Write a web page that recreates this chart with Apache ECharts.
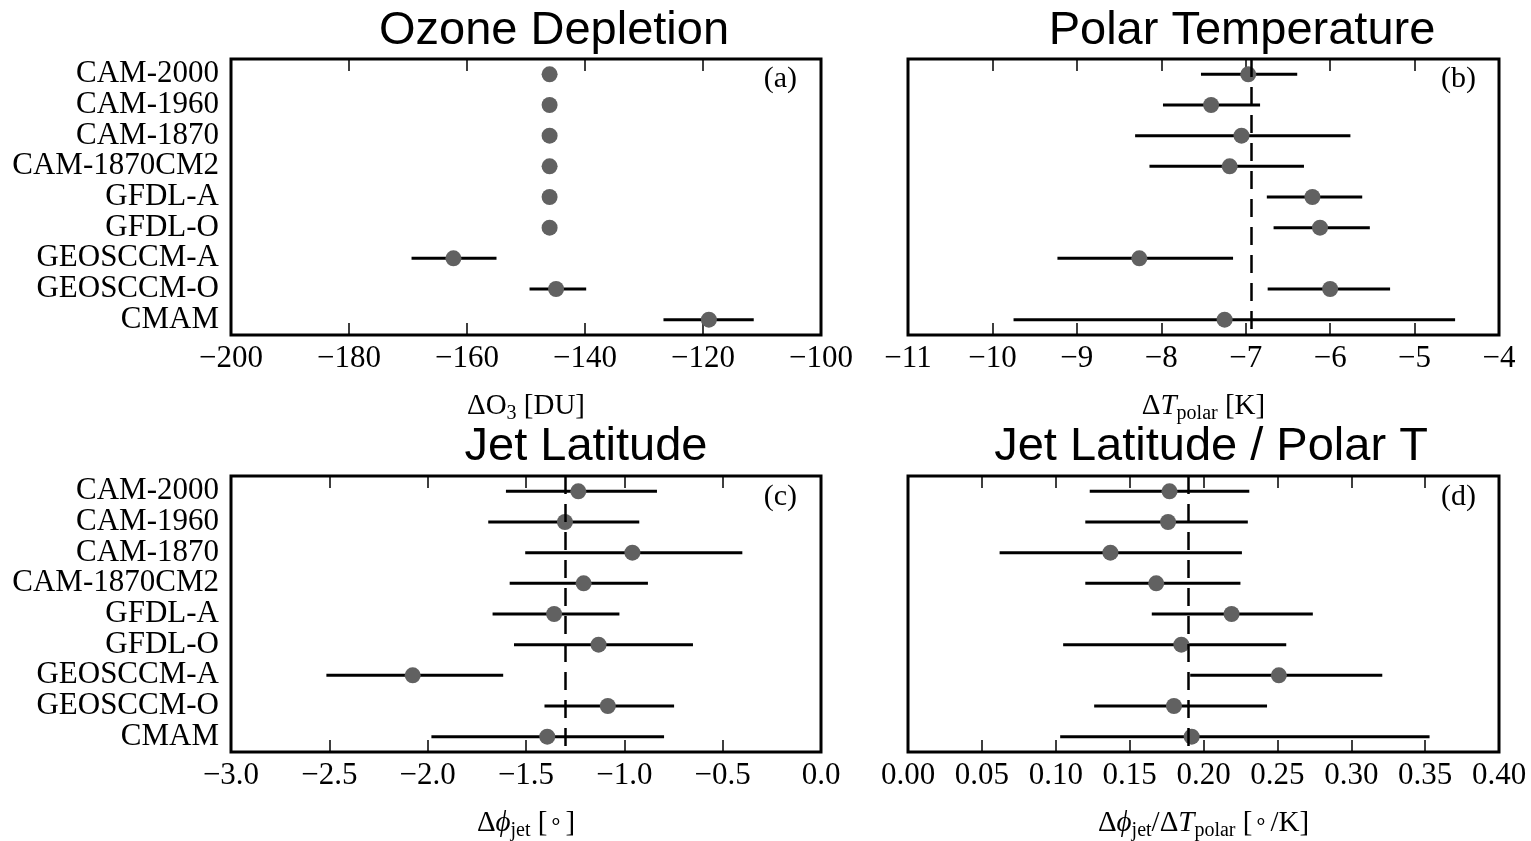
<!DOCTYPE html>
<html>
<head>
<meta charset="utf-8">
<script src="https://cdn.jsdelivr.net/npm/echarts@6/dist/echarts.min.js"></script>
<style>
html,body{margin:0;padding:0;background:#fff;}
#chart{width:1531px;height:841px;}
</style>
</head>
<body>
<div id="chart"></div>
<script>
// ---------- data ----------
const categories = ['CAM-2000','CAM-1960','CAM-1870','CAM-1870CM2','GFDL-A','GFDL-O','GEOSCCM-A','GEOSCCM-O','CMAM'];

const ozoneValues = [-146, -146, -146, -146, -146, -146, -162.3, -144.9, -119.0];
const ozoneLow    = [null, null, null, null, null, null, -169.4, -149.4, -126.7];
const ozoneHigh   = [null, null, null, null, null, null, -155.0, -139.8, -111.4];

const tempValues = [-6.97, -7.41, -7.05, -7.19, -6.21, -6.12, -8.26, -6.00, -7.25];
const tempLow    = [-7.53, -7.98, -8.31, -8.14, -6.75, -6.67, -9.23, -6.74, -9.75];
const tempHigh   = [-6.39, -6.83, -5.76, -6.31, -5.62, -5.53, -7.15, -5.29, -4.52];

const jetValues = [-1.234, -1.302, -0.959, -1.207, -1.357, -1.131, -2.076, -1.084, -1.392];
const jetLow    = [-1.602, -1.692, -1.504, -1.583, -1.670, -1.561, -2.515, -1.406, -1.981];
const jetHigh   = [-0.834, -0.924, -0.400, -0.880, -1.025, -0.651, -1.616, -0.747, -0.798];

const ratioValues = [0.177, 0.176, 0.137, 0.168, 0.219, 0.185, 0.251, 0.180, 0.192];
const ratioLow    = [0.123, 0.120, 0.062, 0.120, 0.165, 0.105, 0.191, 0.126, 0.103];
const ratioHigh   = [0.231, 0.230, 0.226, 0.225, 0.274, 0.256, 0.321, 0.243, 0.353];

const panelTitles = ['Ozone Depletion', 'Polar Temperature', 'Jet Latitude', 'Jet Latitude / Polar T'];
const panelLetters = ['(a)', '(b)', '(c)', '(d)'];
const axisRanges = [[-200, -100, 20], [-11, -4, 1], [-3, 0, 0.5], [0, 0.4, 0.05]];
const tickDecimals = [0, 0, 1, 2];
const axisNames = [
  '{n|ΔO}{s|3}{n| [DU]}',
  '{n|Δ}{i|T}{s|polar}{n| [K]}',
  '{n|Δ}{i|ϕ}{s|jet}{n| [}{u|∘}{n|]}',
  '{n|Δ}{i|ϕ}{s|jet}{n|/Δ}{i|T}{s|polar}{n| [}{u|∘}{n|/K]}'
];
const showMeanLine = [false, true, true, true];

// ---------- layout ----------
const SERIF = 'Liberation Serif';
const SANS = 'Liberation Sans';
const grids = [
  {left: 231, top: 59, width: 590, height: 276},
  {left: 908, top: 59, width: 591, height: 276},
  {left: 231, top: 476, width: 590, height: 276},
  {left: 908, top: 476, width: 591, height: 276}
];
const titlePos = [[554, 31], [1242, 31], [586, 447], [1211, 447]];
const letterPos = [[797, 79], [1476, 79], [797, 497], [1476, 497]];

const panels = [
  {v: ozoneValues, lo: ozoneLow, hi: ozoneHigh},
  {v: tempValues, lo: tempLow, hi: tempHigh},
  {v: jetValues, lo: jetLow, hi: jetHigh},
  {v: ratioValues, lo: ratioLow, hi: ratioHigh}
];

const fmtTick = (d) => (val) => {
  const s = Math.abs(val).toFixed(d);
  return (val < -1e-9 ? '\u2212' : '') + s;
};

const nameRich = {
  n: {fontSize: 29, fontFamily: SERIF, color: '#000', lineHeight: 32, verticalAlign: 'top'},
  i: {fontSize: 29, fontFamily: SERIF, fontStyle: 'italic', color: '#000', lineHeight: 32, verticalAlign: 'top'},
  s: {fontSize: 20, fontFamily: SERIF, color: '#000', verticalAlign: 'bottom'},
  u: {fontSize: 22, fontFamily: SERIF, color: '#000', verticalAlign: 'top', padding: [2, 2, 0, 2]}
};

const option = {
  animation: false,
  backgroundColor: '#fff',
  grid: grids.map(g => Object.assign({show: true, borderColor: '#000', borderWidth: 3, backgroundColor: 'transparent', containLabel: false, outerBoundsMode: 'none'}, g)),
  xAxis: [],
  yAxis: [],
  series: [],
  graphic: []
};

panels.forEach((p, k) => {
  const [mn, mx, iv] = axisRanges[k];
  // bottom axis
  option.xAxis.push({
    type: 'value', gridIndex: k, position: 'bottom', min: mn, max: mx, interval: iv,
    splitLine: {show: false},
    axisLine: {show: false},
    axisTick: {show: true, inside: true, length: 12, lineStyle: {color: '#000', width: 1.5}},
    axisLabel: {show: true, margin: 8, fontSize: 31, fontFamily: SERIF, color: '#000', formatter: fmtTick(tickDecimals[k]), hideOverlap: false},
    name: axisNames[k], nameLocation: 'middle', nameGap: 57,
    nameTextStyle: {rich: nameRich}
  });
  // top axis (ticks only)
  option.xAxis.push({
    type: 'value', gridIndex: k, position: 'top', min: mn, max: mx, interval: iv,
    splitLine: {show: false},
    axisLine: {show: false},
    axisTick: {show: true, inside: true, length: 12, lineStyle: {color: '#000', width: 1.5}},
    axisLabel: {show: false}
  });
  option.yAxis.push({
    type: 'category', gridIndex: k, data: categories, inverse: true,
    axisLine: {show: false}, axisTick: {show: false}, splitLine: {show: false},
    axisLabel: {show: k % 2 === 0, interval: 0, hideOverlap: false, margin: 12, fontSize: 31, fontFamily: SERIF, color: '#000'}
  });

  const xi = k * 2;
  const barData = [];
  p.v.forEach((v, i) => { if (p.lo[i] != null) barData.push([i, p.lo[i], p.hi[i]]); });

  option.series.push({
    type: 'custom', xAxisIndex: xi, yAxisIndex: k, z: 2,
    data: barData,
    encode: {x: [1, 2], y: 0},
    renderItem: function (params, api) {
      const c = api.value(0);
      const a = api.coord([api.value(1), c]);
      const b = api.coord([api.value(2), c]);
      return {type: 'line', shape: {x1: a[0], y1: a[1], x2: b[0], y2: b[1]},
              style: {stroke: '#000', lineWidth: 3}};
    }
  });
  option.series.push({
    type: 'scatter', xAxisIndex: xi, yAxisIndex: k, z: 3,
    symbol: 'circle', symbolSize: 16,
    itemStyle: {color: '#616161', opacity: 1},
    data: p.v.map((v, i) => [v, i])
  });
  if (showMeanLine[k]) {
    const mean = p.v.reduce((s, x) => s + x, 0) / p.v.length;
    option.series.push({
      type: 'line', xAxisIndex: xi, yAxisIndex: k, z: 5, data: [],
      markLine: {
        silent: true, symbol: ['none', 'none'], label: {show: false},
        lineStyle: {color: '#000', width: 2.5, type: [18, 10]},
        data: [{xAxis: mean}]
      }
    });
  }

  option.graphic.push({
    type: 'text', x: titlePos[k][0], y: titlePos[k][1],
    style: {text: panelTitles[k], fontSize: 47, fontFamily: SANS, fill: '#000', align: 'center', verticalAlign: 'middle'}
  });
  option.graphic.push({
    type: 'text', x: letterPos[k][0], y: letterPos[k][1],
    style: {text: panelLetters[k], fontSize: 30, fontFamily: SERIF, fill: '#000', align: 'right', verticalAlign: 'middle'}
  });
});

const chart = echarts.init(document.getElementById('chart'), null, {renderer: 'canvas'});
chart.setOption(option);
</script>
</body>
</html>
